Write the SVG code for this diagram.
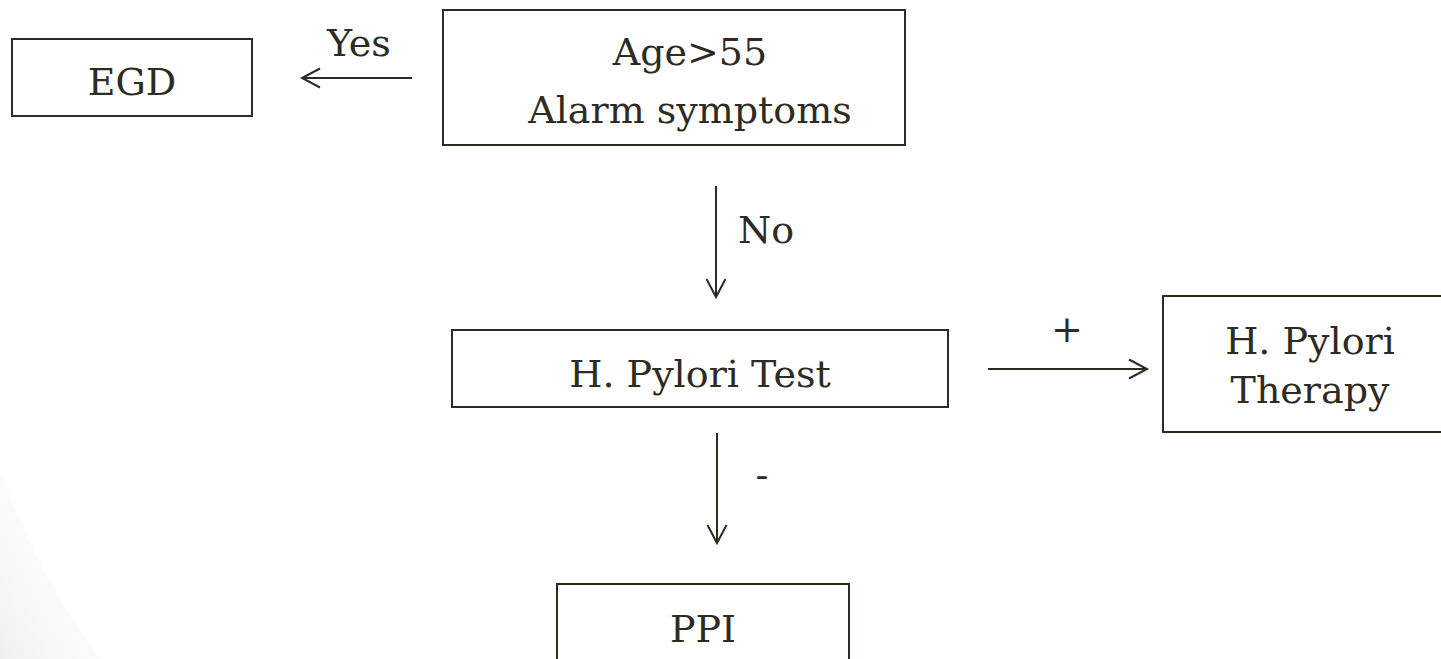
<svg xmlns="http://www.w3.org/2000/svg" width="1441" height="659" viewBox="0 0 1441 659">
  <defs>
    <style>
      .box { fill: #ffffff; stroke: #2e2b23; stroke-width: 2; }
      .lbl { font-family: "DejaVu Serif", "Liberation Serif", serif; font-size: 38px; fill: #2e2b23; text-anchor: middle; }
      .edge { fill: none; stroke: #2e2b23; stroke-width: 2; marker-end: url(#open); }
      .tag { font-family: "DejaVu Serif", "Liberation Serif", serif; font-size: 38px; fill: #2e2b23; }
    </style>
    <marker id="open" markerUnits="userSpaceOnUse" viewBox="-22 -12 24 24" refX="0" refY="0" markerWidth="24" markerHeight="24" orient="auto" overflow="visible">
      <path d="M -18 -9.5 L 0 0 L -18 9.5" fill="none" stroke="#2e2b23" stroke-width="2"/>
    </marker>
    <linearGradient id="corner" x1="0" y1="1" x2="1" y2="0">
      <stop offset="0" stop-color="#e9e9e9"/>
      <stop offset="1" stop-color="#ffffff" stop-opacity="0"/>
    </linearGradient>
  </defs>

  <rect width="1441" height="659" fill="#ffffff"/>
  <!-- soft shading in the lower-left corner -->
  <path d="M 0 470 Q 40 580 100 659 L 0 659 Z" fill="url(#corner)" opacity="0.7"/>

  <g id="node-egd">
    <rect class="box" x="12" y="39" width="240" height="77"/>
    <text class="lbl" x="132" y="95">EGD</text>
  </g>

  <g id="node-age">
    <rect class="box" x="443" y="10" width="462" height="135"/>
    <text class="lbl" x="690" y="65">Age&gt;55</text>
    <text class="lbl" x="690" y="123">Alarm symptoms</text>
  </g>

  <g id="node-test">
    <rect class="box" x="452" y="330" width="496" height="77"/>
    <text class="lbl" x="700" y="387">H. Pylori Test</text>
  </g>

  <g id="node-therapy">
    <rect class="box" x="1163" y="296" width="280" height="136"/>
    <text class="lbl" x="1310" y="354">H. Pylori</text>
    <text class="lbl" x="1310" y="403">Therapy</text>
  </g>

  <g id="node-ppi">
    <rect class="box" x="557" y="584" width="292" height="90"/>
    <text class="lbl" x="703" y="642">PPI</text>
  </g>

  <g id="connectors">
    <line class="edge" x1="412" y1="78" x2="302" y2="78"/>
    <text class="tag" x="327" y="56">Yes</text>

    <line class="edge" x1="716" y1="186" x2="716" y2="297"/>
    <text class="tag" x="738" y="243">No</text>

    <line class="edge" x1="988" y1="369" x2="1147" y2="369"/>
    <text class="tag" x="1067" y="342" text-anchor="middle" font-size="30">+</text>

    <line class="edge" x1="717" y1="433" x2="717" y2="543"/>
    <text class="tag" x="762" y="488" text-anchor="middle">-</text>
  </g>
</svg>
